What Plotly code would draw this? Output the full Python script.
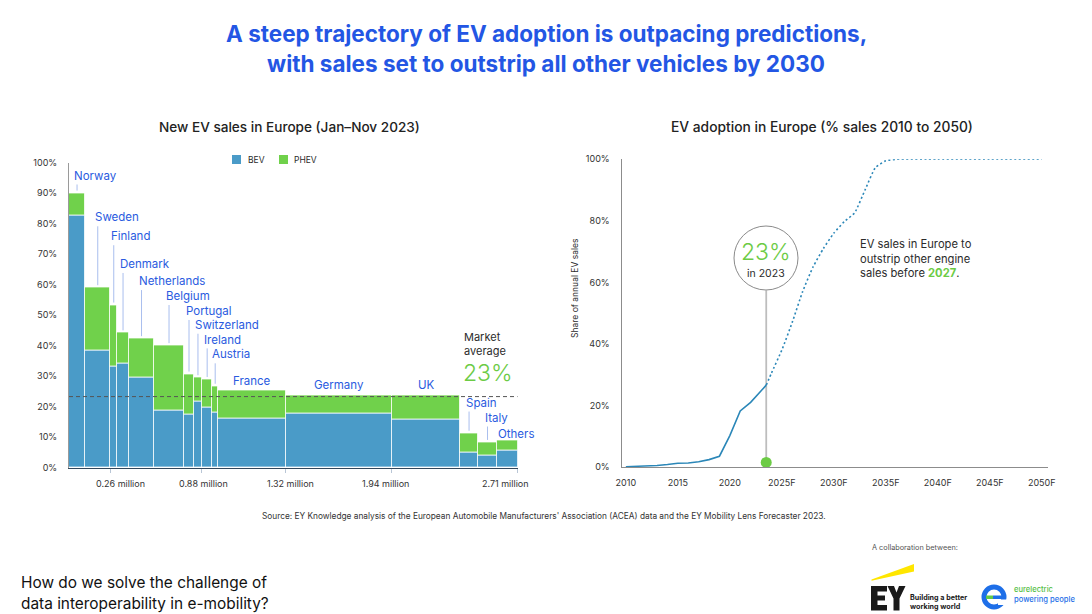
import plotly.graph_objects as go

W, H = 1092, 614


def px(x):
    return x / W


def py(y):
    return 1 - y / H


# ---------------- data: left chart (Marimekko) ----------------
countries = ["Norway", "Sweden", "Finland", "Denmark", "Netherlands", "Belgium",
             "Portugal", "Switzerland", "Ireland", "Austria", "France", "Germany",
             "UK", "Spain", "Italy", "Others"]
ev_sales_m = [0.097, 0.153, 0.040, 0.072, 0.151, 0.181, 0.060, 0.048,
              0.063, 0.034, 0.409, 0.639, 0.414, 0.105, 0.118, 0.123]
bev_share = [82.6, 38.3, 33.1, 34.0, 29.5, 18.8, 17.5, 21.6,
             19.8, 18.2, 16.1, 17.6, 15.9, 5.0, 3.9, 5.7]
total_share = [90.0, 59.0, 53.3, 44.2, 42.3, 40.0, 30.7, 29.5,
               28.9, 26.7, 25.2, 23.7, 23.5, 11.3, 8.3, 8.8]
market_average = 23.3
xtick_after = ["Sweden", "Switzerland", "France", "Germany", "Others"]
xtick_labels = ["0.26 million", "0.88 million", "1.32 million", "1.94 million", "2.71 million"]
ytick_vals = [0, 10, 20, 30, 40, 50, 60, 70, 80, 90, 100]

# ---------------- data: right chart (adoption curve) ----------------
years_actual = [2010, 2011, 2012, 2013, 2014, 2015, 2016, 2017, 2018, 2019,
                2020, 2021, 2022, 2023.5]
share_actual = [0.1, 0.2, 0.2, 0.5, 0.8, 1.2, 1.3, 1.7, 2.4, 3.5,
                10.2, 18.2, 21.0, 26.6]
years_forecast = [2023.5, 2024, 2025, 2026, 2027, 2028, 2029, 2030, 2031,
                  2032, 2033, 2034, 2035, 2036, 2040, 2045, 2050]
share_forecast = [26.6, 30.5, 38.0, 47.0, 57.0, 65.0, 71.0, 76.0, 79.7,
                  82.6, 90.0, 97.3, 99.5, 100, 100, 100, 100]
marker_year = 2023.5
year_ticks = [2010, 2015, 2020, 2025, 2030, 2035, 2040, 2045, 2050]
year_tick_labels = ["2010", "2015", "2020", "2025F", "2030F", "2035F", "2040F", "2045F", "2050F"]
share_ticks = [0, 20, 40, 60, 80, 100]

# ---------------- derived ----------------
phev_share = [t - b for t, b in zip(total_share, bev_share)]
lefts, centers = [], []
acc = 0.0
for w in ev_sales_m:
    lefts.append(acc)
    centers.append(acc + w / 2)
    acc += w
total_sales = acc
tick_pos = [lefts[countries.index(c)] + ev_sales_m[countries.index(c)] for c in xtick_after]

# ---------------- styles / layout constants ----------------
FONT = "Inter"
BLUE_T = "#2356E4"
LABEL_BLUE = "#2A5BE0"
BEV_C = "#4A9BC8"
PHEV_C = "#70D14B"
GREEN = "#6CCB45"
LINE_C = "#2B87B8"
DARK = "#2b2b2b"

label_y = [95.7, 82.0, 75.8, 66.7, 61.1, 56.2, 51.3, 46.8, 42.0, 37.1,
           28.3, 27.2, 27.2, 21.3, 16.4, 11.1]
label_mode = ["lead"] * 10 + ["center"] * 3 + ["lead", "lead", "left"]
xtick_label_shift = [10, 2, 5, -6, -12]   # label offsets (px) from their tick marks

fig = go.Figure()

fig.add_trace(go.Bar(x=centers, y=bev_share, width=ev_sales_m, name="BEV",
                     marker=dict(color=BEV_C, line=dict(color="rgba(255,255,255,0.75)", width=1)),
                     xaxis="x", yaxis="y", showlegend=False, hoverinfo="skip"))
fig.add_trace(go.Bar(x=centers, y=phev_share, base=bev_share, width=ev_sales_m, name="PHEV",
                     marker=dict(color=PHEV_C, line=dict(color="rgba(255,255,255,0.75)", width=1)),
                     xaxis="x", yaxis="y", showlegend=False, hoverinfo="skip"))

fig.add_trace(go.Scatter(x=years_actual, y=share_actual, mode="lines",
                         line=dict(color=LINE_C, width=1.6),
                         xaxis="x2", yaxis="y2", showlegend=False, hoverinfo="skip"))
fig.add_trace(go.Scatter(x=years_forecast, y=share_forecast, mode="lines",
                         line=dict(color=LINE_C, width=1.6, dash="2px,2.5px", shape="spline", smoothing=0.5),
                         xaxis="x2", yaxis="y2", showlegend=False, hoverinfo="skip"))
fig.add_trace(go.Scatter(x=[marker_year], y=[1.5], mode="markers",
                         marker=dict(color=GREEN, size=11),
                         xaxis="x2", yaxis="y2", showlegend=False, hoverinfo="skip"))

shapes = []
annotations = []

# market average dashed line
shapes.append(dict(type="line", xref="x", yref="y", x0=0, x1=total_sales,
                   y0=market_average, y1=market_average,
                   line=dict(color="#555", width=1, dash="4px,3px"), layer="above"))

# country labels + leader lines
for i, c in enumerate(countries):
    mode = label_mode[i]
    if mode == "lead":
        annotations.append(dict(x=centers[i], y=label_y[i], xref="x", yref="y", text=c,
                                showarrow=False, xanchor="left", yanchor="middle", xshift=-5,
                                font=dict(family=FONT, size=11.5, color=LABEL_BLUE)))
        shapes.append(dict(type="line", xref="x", yref="y", x0=centers[i], x1=centers[i],
                           y0=label_y[i] - 2.9, y1=total_share[i] + 0.8,
                           line=dict(color="#A9BEEE", width=1)))
    elif mode == "center":
        annotations.append(dict(x=centers[i], y=label_y[i], xref="x", yref="y", text=c,
                                showarrow=False, xanchor="center", yanchor="middle",
                                font=dict(family=FONT, size=11.5, color=LABEL_BLUE)))
    else:
        annotations.append(dict(x=lefts[i], y=label_y[i], xref="x", yref="y", text=c,
                                showarrow=False, xanchor="left", yanchor="middle", xshift=-1,
                                font=dict(family=FONT, size=11.5, color=LABEL_BLUE)))

# left x tick labels (placed at the tick positions of the axis)
axis_font = dict(family=FONT, size=9, color="#333")
for tp, lab, sh in zip(tick_pos, xtick_labels, xtick_label_shift):
    annotations.append(dict(x=tp, y=py(483), xref="x", yref="paper", text=lab, xshift=sh,
                            showarrow=False, xanchor="center", yanchor="middle", font=axis_font))

# market average text
annotations.append(dict(x=px(462), y=py(337), xref="paper", yref="paper", text="Market",
                        showarrow=False, xanchor="left", yanchor="middle",
                        font=dict(family=FONT, size=11, color=DARK)))
annotations.append(dict(x=px(462), y=py(351), xref="paper", yref="paper", text="average",
                        showarrow=False, xanchor="left", yanchor="middle",
                        font=dict(family=FONT, size=11, color=DARK)))
annotations.append(dict(x=px(461), y=py(373), xref="paper", yref="paper", text="23%",
                        showarrow=False, xanchor="left", yanchor="middle",
                        font=dict(family=FONT, size=23, color=GREEN, weight=300)))

# legend
shapes.append(dict(type="rect", xref="paper", yref="paper", x0=px(232), x1=px(241),
                   y0=py(164), y1=py(155), fillcolor=BEV_C, line=dict(width=0)))
annotations.append(dict(x=px(246), y=py(159.5), xref="paper", yref="paper", text="BEV",
                        showarrow=False, xanchor="left", yanchor="middle",
                        font=dict(family=FONT, size=8.5, color=DARK)))
shapes.append(dict(type="rect", xref="paper", yref="paper", x0=px(279), x1=px(288),
                   y0=py(164), y1=py(155), fillcolor=PHEV_C, line=dict(width=0)))
annotations.append(dict(x=px(292), y=py(159.5), xref="paper", yref="paper", text="PHEV",
                        showarrow=False, xanchor="left", yanchor="middle",
                        font=dict(family=FONT, size=8.5, color=DARK)))

# right chart callouts
shapes.append(dict(type="line", xref="x2", yref="y2", x0=marker_year, x1=marker_year,
                   y0=1.5, y1=57.4, line=dict(color="#BDBDBD", width=1.8), layer="below"))
shapes.append(dict(type="circle", xref="paper", yref="paper",
                   x0=px(766 - 32), x1=px(766 + 32), y0=py(258 + 32), y1=py(258 - 32),
                   line=dict(color="#8a8a8a", width=1), fillcolor="rgba(255,255,255,1)"))
annotations.append(dict(x=px(766), y=py(252), xref="paper", yref="paper", text="23%",
                        showarrow=False, xanchor="center", yanchor="middle",
                        font=dict(family=FONT, size=23, color=GREEN, weight=300)))
annotations.append(dict(x=px(766), y=py(273), xref="paper", yref="paper", text="in 2023",
                        showarrow=False, xanchor="center", yanchor="middle",
                        font=dict(family=FONT, size=10.5, color=DARK)))
annotations.append(dict(x=px(858), y=py(258.5), xref="paper", yref="paper",
                        text="EV sales in Europe to<br>outstrip other engine<br>sales before "
                             f"<b><span style='color:{GREEN}'>2027</span></b>.",
                        showarrow=False, xanchor="left", yanchor="middle", align="left",
                        font=dict(family=FONT, size=11.2, color=DARK)))
annotations.append(dict(x=px(575), y=py(288), xref="paper", yref="paper",
                        text="Share of annual EV sales", textangle=-90,
                        showarrow=False, xanchor="center", yanchor="middle",
                        font=dict(family=FONT, size=8.5, color=DARK)))

# titles
annotations.append(dict(x=px(546), y=py(33), xref="paper", yref="paper",
                        text="A steep trajectory of EV adoption is outpacing predictions,",
                        showarrow=False, xanchor="center", yanchor="middle",
                        font=dict(family=FONT, size=22.5, color=BLUE_T, weight=700)))
annotations.append(dict(x=px(546), y=py(63), xref="paper", yref="paper",
                        text="with sales set to outstrip all other vehicles by 2030",
                        showarrow=False, xanchor="center", yanchor="middle",
                        font=dict(family=FONT, size=22.5, color=BLUE_T, weight=700)))
annotations.append(dict(x=px(289), y=py(127), xref="paper", yref="paper",
                        text="New EV sales in Europe (Jan–Nov 2023)",
                        showarrow=False, xanchor="center", yanchor="middle",
                        font=dict(family=FONT, size=13.6, color="#222", weight=500)))
annotations.append(dict(x=px(822), y=py(127), xref="paper", yref="paper",
                        text="EV adoption in Europe (% sales 2010 to 2050)",
                        showarrow=False, xanchor="center", yanchor="middle",
                        font=dict(family=FONT, size=13.8, color="#222", weight=500)))

# source and footer
annotations.append(dict(x=px(544), y=py(516), xref="paper", yref="paper",
                        text="Source: EY Knowledge analysis of the European Automobile Manufacturers' "
                             "Association (ACEA) data and the EY Mobility Lens Forecaster 2023.",
                        showarrow=False, xanchor="center", yanchor="middle",
                        font=dict(family=FONT, size=8.3, color="#333")))
annotations.append(dict(x=px(19), y=py(582), xref="paper", yref="paper",
                        text="How do we solve the challenge of",
                        showarrow=False, xanchor="left", yanchor="middle",
                        font=dict(family=FONT, size=15.4, color="#111")))
annotations.append(dict(x=px(19), y=py(603), xref="paper", yref="paper",
                        text="data interoperability in e-mobility?",
                        showarrow=False, xanchor="left", yanchor="middle",
                        font=dict(family=FONT, size=15.4, color="#111")))
annotations.append(dict(x=px(870), y=py(547), xref="paper", yref="paper",
                        text="A collaboration between:",
                        showarrow=False, xanchor="left", yanchor="middle",
                        font=dict(family=FONT, size=7.3, color="#555")))


def path(points):
    s = "M " + " L ".join(f"{px(x):.5f},{py(y):.5f}" for x, y in points) + " Z"
    return s


# EY logo
shapes.append(dict(type="path", xref="paper", yref="paper",
                   path=path([(871.5, 579.5), (914, 564), (914, 571.5), (871.5, 580.8)]),
                   fillcolor="#FFE600", line=dict(width=0)))
shapes.append(dict(type="path", xref="paper", yref="paper",
                   path=path([(871, 586), (887, 586), (887, 591.5), (877.5, 591.5), (877.5, 595.5),
                              (885, 595.5), (885, 600.5), (877.5, 600.5), (877.5, 605), (887, 605),
                              (887, 610.5), (871, 610.5)]),
                   fillcolor="#1a1a1a", line=dict(width=0)))
shapes.append(dict(type="path", xref="paper", yref="paper",
                   path=path([(887.5, 586), (894, 586), (896.5, 592.5), (899, 586), (905.5, 586),
                              (899.5, 598.5), (899.5, 610.5), (893.5, 610.5), (893.5, 598.5)]),
                   fillcolor="#1a1a1a", line=dict(width=0)))
annotations.append(dict(x=px(907.5), y=py(601.5), xref="paper", yref="paper",
                        text="Building a better<br>working world", showarrow=False,
                        xanchor="left", yanchor="middle", align="left",
                        font=dict(family=FONT, size=7.2, color="#1a1a1a", weight=700)))

# eurelectric logo
shapes.append(dict(type="circle", xref="paper", yref="paper",
                   x0=px(984), x1=px(1004), y0=py(607), y1=py(587),
                   line=dict(color="#1E6FE8", width=5), fillcolor="white"))
shapes.append(dict(type="rect", xref="paper", yref="paper",
                   x0=px(998), x1=px(1008), y0=py(605), y1=py(599.5),
                   fillcolor="white", line=dict(width=0)))
shapes.append(dict(type="rect", xref="paper", yref="paper",
                   x0=px(986), x1=px(993), y0=py(599), y1=py(595.5),
                   fillcolor="#62C94A", line=dict(width=0)))
shapes.append(dict(type="rect", xref="paper", yref="paper",
                   x0=px(993), x1=px(1002), y0=py(599), y1=py(595.5),
                   fillcolor="#1E6FE8", line=dict(width=0)))
annotations.append(dict(x=px(1012), y=py(594), xref="paper", yref="paper",
                        text="<span style='color:#55BE45'>eurelectric</span><br>"
                             "<span style='color:#1E6FE8'>powering people</span>",
                        showarrow=False, xanchor="left", yanchor="middle", align="left",
                        font=dict(family=FONT, size=7.6, color="#1E6FE8", weight=500)))

fig.update_layout(
    width=W, height=H, autosize=False,
    margin=dict(l=0, r=0, t=0, b=0, pad=0, autoexpand=False),
    paper_bgcolor="white", plot_bgcolor="white",
    barmode="overlay", bargap=0,
    showlegend=False,
    font=dict(family=FONT),
    xaxis=dict(domain=[px(69), px(517.7)], range=[0, total_sales], anchor="y",
               showgrid=False, zeroline=False, showline=True, linecolor="#33475b", linewidth=1.2,
               tickmode="array", tickvals=tick_pos, ticktext=xtick_labels, showticklabels=False,
               ticks="outside", ticklen=4, tickcolor="#b9c6d6", tickwidth=1,
               fixedrange=True, automargin=False),
    yaxis=dict(domain=[py(467.7), py(162.5)], range=[0, 100], anchor="x",
               showgrid=False, zeroline=False, showline=True, linecolor="#9a9a9a", linewidth=1,
               tickmode="array", tickvals=ytick_vals, ticktext=[f"{v}%" for v in ytick_vals],
               ticks="", ticklabelstandoff=9, tickfont=axis_font, fixedrange=True, automargin=False),
    xaxis2=dict(domain=[px(621.7), px(1048)], range=[2009.6, 2050.6], anchor="y2",
                showgrid=False, zeroline=False, showline=True, linecolor="#8c8c8c", linewidth=1.4,
                tickmode="array", tickvals=year_ticks, ticktext=year_tick_labels,
                ticks="", ticklabelstandoff=7, tickfont=axis_font, fixedrange=True, automargin=False),
    yaxis2=dict(domain=[py(467), py(159.3)], range=[0, 100], anchor="x2",
                showgrid=False, zeroline=False, showline=True, linecolor="#8c8c8c", linewidth=1.4,
                tickmode="array", tickvals=share_ticks, ticktext=[f"{v}%" for v in share_ticks],
                ticks="", ticklabelstandoff=9, tickfont=axis_font, fixedrange=True, automargin=False),
    shapes=shapes,
    annotations=annotations,
)

fig.write_html("out.html", config={"displayModeBar": False},
               post_script="document.body.style.margin='0';document.body.style.overflow='hidden';")
